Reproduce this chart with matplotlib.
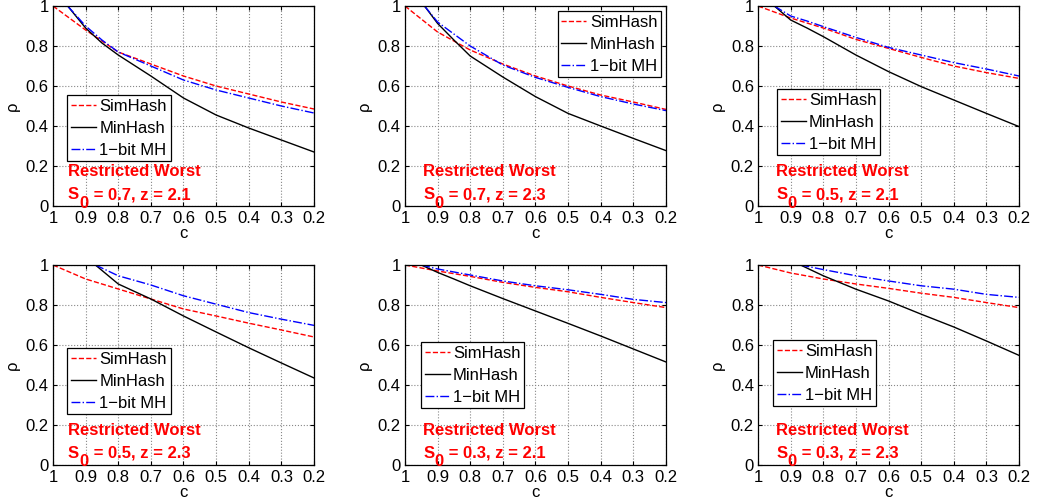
import numpy as np
import matplotlib
matplotlib.use('Agg')
import matplotlib.pyplot as plt
from matplotlib import transforms

plt.rcParams['font.family'] = ['Liberation Sans', 'DejaVu Sans']

# --- Curve data: rho vs c for each (S0, z) setting ---
C_SIM = [1.0, 0.9, 0.8, 0.7, 0.6, 0.5, 0.4, 0.3, 0.2]

# panel order: (0.7, 2.1), (0.7, 2.3), (0.5, 2.1), (0.5, 2.3), (0.3, 2.1), (0.3, 2.3)
S0_VALUES = [0.7, 0.7, 0.5, 0.5, 0.3, 0.3]
Z_VALUES = [2.1, 2.3, 2.1, 2.3, 2.1, 2.3]

SIMHASH = [
    [1.0, 0.88, 0.77, 0.71, 0.65, 0.60, 0.56, 0.52, 0.485],
    [1.0, 0.87, 0.78, 0.71, 0.65, 0.60, 0.555, 0.52, 0.483],
    [1.0, 0.94, 0.89, 0.833, 0.788, 0.743, 0.70, 0.667, 0.638],
    [1.0, 0.93, 0.88, 0.83, 0.78, 0.745, 0.709, 0.675, 0.64],
    [1.0, 0.97, 0.943, 0.913, 0.888, 0.866, 0.838, 0.812, 0.787],
    [1.0, 0.96, 0.93, 0.905, 0.883, 0.859, 0.838, 0.812, 0.787],
]

# MinHash and 1-bit MH start at the point where rho reaches 1
C_START = [0.955, 0.94, 0.95, 0.87, 0.95, 0.87]

MINHASH = [
    [1.0, 0.89, 0.815, 0.755, 0.65, 0.54, 0.455, 0.39, 0.33, 0.27],
    [1.0, 0.913, 0.83, 0.75, 0.645, 0.547, 0.463, 0.40, 0.338, 0.277],
    [1.0, 0.93, 0.89, 0.847, 0.755, 0.672, 0.597, 0.53, 0.463, 0.397],
    [1.0, 0.905, 0.83, 0.745, 0.665, 0.586, 0.51, 0.435],
    [1.0, 0.963, 0.93, 0.896, 0.832, 0.77, 0.708, 0.645, 0.58, 0.515],
    [1.0, 0.946, 0.879, 0.82, 0.754, 0.69, 0.62, 0.548],
]

ONEBIT = [
    [1.0, 0.90, 0.83, 0.77, 0.70, 0.63, 0.58, 0.54, 0.50, 0.465],
    [1.0, 0.92, 0.86, 0.80, 0.705, 0.643, 0.593, 0.547, 0.51, 0.477],
    [1.0, 0.95, 0.925, 0.897, 0.843, 0.793, 0.755, 0.717, 0.685, 0.65],
    [1.0, 0.946, 0.90, 0.846, 0.804, 0.762, 0.729, 0.698],
    [1.0, 0.98, 0.965, 0.95, 0.92, 0.896, 0.876, 0.853, 0.828, 0.812],
    [1.0, 0.977, 0.946, 0.92, 0.896, 0.879, 0.853, 0.838],
]

# legend anchor (upper-left corner, axes fraction); None means upper right
LEGEND_POS = [(0.055, 0.555), None, (0.073, 0.585), (0.055, 0.585), (0.061, 0.615), (0.057, 0.625)]
TEXT_X = [0.057, 0.07, 0.069, 0.057, 0.07, 0.069]

FS_TICK = 12
FS_LEG = 12
FS_NOTE = 12


def mh_grid(start, n):
    # c values used by the MinHash / 1-bit MH curves
    if n == 10:
        return [start, 0.9, 0.85, 0.8, 0.7, 0.6, 0.5, 0.4, 0.3, 0.2]
    return [start, 0.8, 0.7, 0.6, 0.5, 0.4, 0.3, 0.2]


def subscript_note(ax, x, y, s0, z, renderer):
    # "S_0 = .., z = .." with a full-size, dropped subscript
    style = dict(color='red', fontsize=FS_NOTE, fontweight='bold', va='baseline', ha='left')
    t1 = ax.text(x, y, 'S', transform=ax.transAxes, **style)
    w1 = t1.get_window_extent(renderer).width
    off = transforms.offset_copy(ax.transAxes, fig=ax.figure, x=w1 + 0.5, y=-8.5, units='dots')
    t2 = ax.text(x, y, '0', transform=off, **style)
    w2 = t2.get_window_extent(renderer).width
    off = transforms.offset_copy(ax.transAxes, fig=ax.figure, x=w1 + w2 + 1, y=0, units='dots')
    ax.text(x, y, f' = {s0}, z = {z}', transform=off, **style)


fig = plt.figure(figsize=(10.37, 5.01), dpi=100)
renderer = fig.canvas.get_renderer()

lefts = [0.0511, 0.3905, 0.731]
bottoms = [0.5888, 0.0719]
w, h = 0.2517, 0.3992

for i in range(6):
    row, col = divmod(i, 3)
    ax = fig.add_axes([lefts[col], bottoms[row], w, h])

    ax.plot(C_SIM, SIMHASH[i], '--', color='red', lw=1.0, label='SimHash')
    cm = mh_grid(C_START[i], len(MINHASH[i]))
    ax.plot(cm, MINHASH[i], '-', color='black', lw=1.0, label='MinHash')
    cb = mh_grid(C_START[i], len(ONEBIT[i]))
    ax.plot(cb, ONEBIT[i], '-.', color='blue', lw=1.0, label='1\u2212bit MH')

    ax.set_xlim(1, 0.2)
    ax.set_ylim(0, 1)
    ax.set_xticks([1, 0.9, 0.8, 0.7, 0.6, 0.5, 0.4, 0.3, 0.2])
    ax.set_xticklabels(['1', '0.9', '0.8', '0.7', '0.6', '0.5', '0.4', '0.3', '0.2'])
    ax.set_yticks([0, 0.2, 0.4, 0.6, 0.8, 1])
    ax.set_yticklabels(['0', '0.2', '0.4', '0.6', '0.8', '1'])
    ax.tick_params(direction='in', top=True, right=True, labelsize=FS_TICK, length=3)
    ax.tick_params(axis='x', pad=3.5)
    ax.tick_params(axis='y', pad=3)
    ax.grid(True, linestyle=':', color='#888888', lw=0.8)
    for s in ax.spines.values():
        s.set_linewidth(0.9)

    ax.set_xlabel('c', fontsize=12, labelpad=0)
    ax.set_ylabel('\u03c1', fontsize=12, labelpad=4)

    leg_kw = dict(fontsize=FS_LEG, fancybox=False, edgecolor='black', framealpha=1,
                  handlelength=1.5, handletextpad=0.2, labelspacing=0.42, borderpad=0.22)
    if LEGEND_POS[i] is None:
        leg = ax.legend(loc='upper right', borderaxespad=0.3, **leg_kw)
    else:
        leg = ax.legend(loc='upper left', bbox_to_anchor=LEGEND_POS[i], borderaxespad=0, **leg_kw)
    leg.get_frame().set_linewidth(0.9)

    ax.text(TEXT_X[i], 0.152, 'Restricted Worst', transform=ax.transAxes,
            color='red', fontsize=FS_NOTE, fontweight='bold', va='baseline', ha='left')
    subscript_note(ax, TEXT_X[i], 0.035, S0_VALUES[i], Z_VALUES[i], renderer)

fig.savefig('out.png', dpi=100)
